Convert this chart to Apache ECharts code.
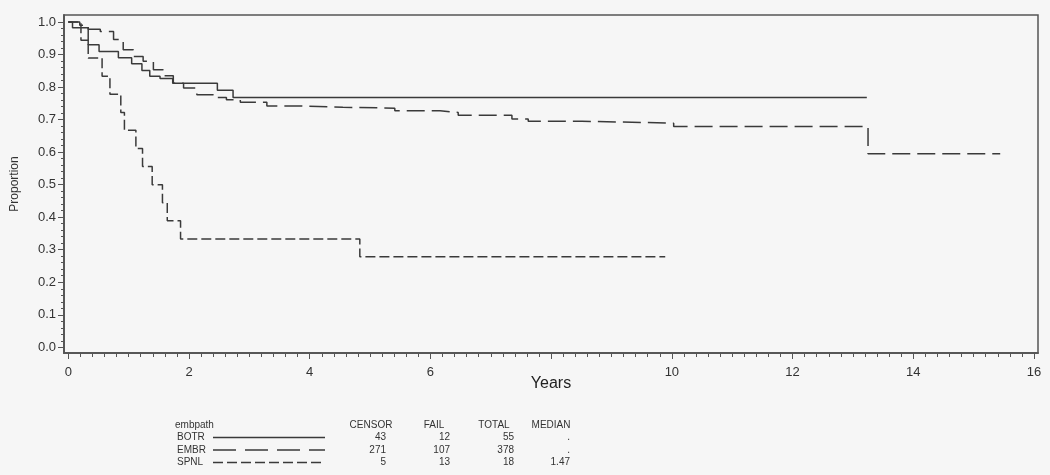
<!DOCTYPE html>
<html>
<head>
<meta charset="utf-8">
<script src="https://cdn.jsdelivr.net/npm/echarts@6/dist/echarts.min.js"></script>
<style>
html,body{margin:0;padding:0;background:#f6f6f6;}
#c{width:1050px;height:475px;}
</style>
</head>
<body>
<div id="c"></div>
<script>
// ---- Data ----
const groupNames = ['BOTR', 'EMBR', 'SPNL'];
const botrTimes = [0, 0.07, 0.33, 0.51, 0.83, 1.05, 1.22, 1.35, 1.52, 1.73, 2.47, 2.73, 13.23];
const botrSurv  = [1.0, 0.982, 0.930, 0.909, 0.890, 0.872, 0.851, 0.833, 0.826, 0.812, 0.790, 0.768, 0.768];
const embrTimes = [0, 0.19, 0.33, 0.53, 0.75, 0.91, 1.08, 1.24, 1.41, 1.57, 1.74, 1.91, 2.13, 2.40, 2.62, 2.85, 3.29, 3.84, 4.55, 5.41, 6.16, 6.46, 7.35, 7.62, 8.51, 10.03, 13.25, 15.44];
const embrSurv  = [1.0, 0.990, 0.978, 0.971, 0.946, 0.915, 0.894, 0.879, 0.853, 0.835, 0.812, 0.797, 0.776, 0.768, 0.761, 0.753, 0.742, 0.738, 0.735, 0.727, 0.722, 0.713, 0.702, 0.695, 0.689, 0.679, 0.595, 0.595];
const spnlTimes = [0, 0.21, 0.33, 0.56, 0.69, 0.87, 0.93, 1.12, 1.23, 1.39, 1.56, 1.64, 1.86, 4.83, 9.89];
const spnlSurv  = [1.0, 0.944, 0.889, 0.833, 0.778, 0.722, 0.667, 0.611, 0.556, 0.500, 0.444, 0.389, 0.333, 0.278, 0.278];
const censorCounts = [43, 271, 5];
const failCounts = [12, 107, 13];
const totalCounts = [55, 378, 18];
const medians = ['.', '.', '1.47'];
const xTickValues = [0, 2, 4, 6, 8, 10, 12, 14, 16];
const xLabelValues = [0, 2, 4, 6, 10, 12, 14, 16];   // "8" is not printed in the reference
const yTickValues = [0, 0.1, 0.2, 0.3, 0.4, 0.5, 0.6, 0.7, 0.8, 0.9, 1.0];

// minor tick positions (every 0.2 years, every 0.02 proportion)
const xMinor = []; for (let i = 0; i <= 80; i++) xMinor.push(+(i * 0.2).toFixed(2));
const yMinor = []; for (let i = 0; i <= 50; i++) yMinor.push(+(i * 0.02).toFixed(2));

function pairs(t, s) { return t.map((v, i) => [v, s[i]]); }

const FONT = 'Liberation Sans, Arial, sans-serif';
const LINE_COLOR = '#3a3a3a';
const AXIS_COLOR = '#555';
const dashes = [null, [18, 7], [10, 4]];
const seriesData = [pairs(botrTimes, botrSurv), pairs(embrTimes, embrSurv), pairs(spnlTimes, spnlSurv)];

// axis ranges: the frame extends a little beyond 0..16 and 0..1
const X_MIN = -0.071, X_MAX = 16.066, Y_MIN = -0.0175, Y_MAX = 1.0215;

const chart = echarts.init(document.getElementById('c'), null, {renderer: 'canvas'});

const series = groupNames.map((n, i) => ({
  name: n,
  type: 'line',
  step: 'end',
  symbol: 'none',
  xAxisIndex: 0, yAxisIndex: 0,
  data: seriesData[i],
  lineStyle: {color: LINE_COLOR, width: 1.5, type: dashes[i] || 'solid'},
  z: 3
}));

const g = [];
g.push({type: 'rect', shape: {x: 64, y: 15, width: 974, height: 338}, style: {fill: 'none', stroke: AXIS_COLOR, lineWidth: 1.5}, z: 10, silent: true});
const tStyle = (x, y, text, align) => ({type: 'text', x: x, y: y, style: {text: text, font: '10px ' + FONT, fill: '#333', align: align || 'left', verticalAlign: 'middle'}, silent: true});
const rowY = [437.5, 450, 462.5];
g.push(tStyle(175, 425.5, 'embpath'));
g.push(tStyle(371, 425.5, 'CENSOR', 'center'));
g.push(tStyle(434, 425.5, 'FAIL', 'center'));
g.push(tStyle(494, 425.5, 'TOTAL', 'center'));
g.push(tStyle(551, 425.5, 'MEDIAN', 'center'));
groupNames.forEach((n, i) => {
  g.push(tStyle(177, rowY[i], n));
  g.push({type: 'line', shape: {x1: 213, y1: rowY[i], x2: 325, y2: rowY[i]}, style: {stroke: LINE_COLOR, lineWidth: 1.4, lineDash: dashes[i] ? (i === 1 ? [23, 9] : [10, 4]) : null}, silent: true});
  g.push(tStyle(386, rowY[i], String(censorCounts[i]), 'right'));
  g.push(tStyle(450, rowY[i], String(failCounts[i]), 'right'));
  g.push(tStyle(514, rowY[i], String(totalCounts[i]), 'right'));
  g.push(tStyle(570, rowY[i], medians[i], 'right'));
});

const baseX = {
  type: 'value', min: X_MIN, max: X_MAX, position: 'bottom',
  axisLine: {show: true, onZero: false, lineStyle: {color: AXIS_COLOR, width: 1.5}},
  splitLine: {show: false}
};
const baseY = {
  type: 'value', min: Y_MIN, max: Y_MAX, position: 'left',
  axisLine: {show: true, onZero: false, lineStyle: {color: AXIS_COLOR, width: 1.5}},
  splitLine: {show: false}
};

chart.setOption({
  backgroundColor: '#f6f6f6',
  animation: false,
  grid: {left: 64, right: 12, top: 15, bottom: 122, containLabel: false},
  xAxis: [
    Object.assign({}, baseX, {
      name: 'Years', nameLocation: 'middle', nameGap: 23, nameMoveOverlap: false,
      nameTextStyle: {fontSize: 16, fontFamily: FONT, color: '#222'},
      axisTick: {show: true, inside: false, length: 6, customValues: xTickValues, lineStyle: {color: AXIS_COLOR}},
      axisLabel: {show: true, margin: 13, fontSize: 13, fontFamily: FONT, color: '#333', customValues: xLabelValues,
        formatter: v => String(Math.round(v))}
    }),
    Object.assign({}, baseX, {
      axisTick: {show: true, inside: false, length: 4, customValues: xMinor, lineStyle: {color: AXIS_COLOR}},
      axisLabel: {show: false}
    })
  ],
  yAxis: [
    Object.assign({}, baseY, {
      name: 'Proportion', nameLocation: 'middle', nameGap: 43, nameRotate: 90, nameMoveOverlap: false,
      nameTextStyle: {fontSize: 12, fontFamily: FONT, color: '#333'},
      axisTick: {show: true, inside: false, length: 6, customValues: yTickValues, lineStyle: {color: AXIS_COLOR}},
      axisLabel: {show: true, margin: 8, fontSize: 13, fontFamily: FONT, color: '#333', customValues: yTickValues,
        formatter: v => v.toFixed(1)}
    }),
    Object.assign({}, baseY, {
      axisTick: {show: true, inside: false, length: 3, customValues: yMinor, lineStyle: {color: AXIS_COLOR}},
      axisLabel: {show: false}
    })
  ],
  series: series,
  graphic: g
});
</script>
</body>
</html>
